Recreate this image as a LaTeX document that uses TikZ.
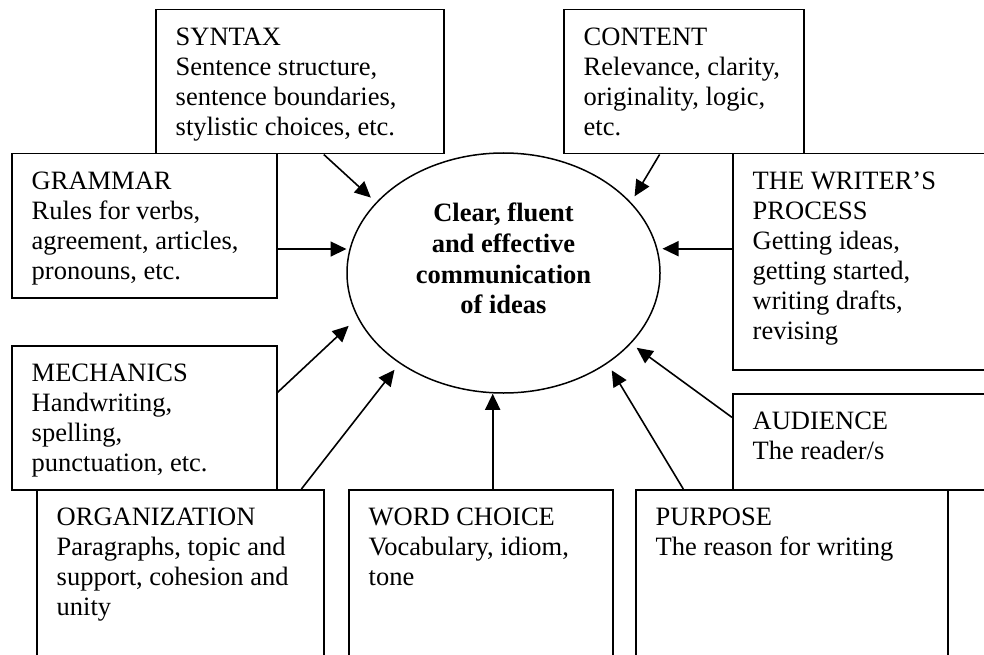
\documentclass[tikz,border=0pt]{standalone}
\usepackage{fontspec}
\setmainfont{Liberation Serif}
\usetikzlibrary{arrows.meta,calc,shapes.geometric}

\begin{document}
\begin{tikzpicture}[x=1pt,y=-1pt,
  box/.style={draw, line width=1.5pt, rectangle, anchor=north west, inner sep=0pt},
  txt/.style={anchor=north west, inner sep=0pt, align=left,
    font=\fontsize{26.5}{30}\selectfont},
  ctxt/.style={anchor=north, inner sep=0pt, align=center,
    font=\fontsize{26.5}{30.6}\selectfont\bfseries},
  arr/.style={line width=1.6pt, -{Triangle[length=16pt,width=15pt]}},
]
\useasboundingbox (0,0) rectangle (984,655);
\clip (0,0) rectangle (984,655);

% central idea
\node[draw, ellipse, line width=1.5pt, minimum width=313pt, minimum height=240pt,
  inner sep=0pt] (ell) at (503.5,273) {};
\node[ctxt] (elltxt) at ([yshift=70pt]ell.center)
  {Clear, fluent\\and effective\\communication\\of ideas};

% surrounding boxes
\node[box, minimum width=288pt, minimum height=144pt] (syntax)   at (155,9)   {};
\node[box, minimum width=240pt, minimum height=144pt] (content)  at (563,9)   {};
\node[box, minimum width=265pt, minimum height=144pt] (grammar)  at (11,153)  {};
\node[box, minimum width=300pt, minimum height=216pt] (writer)   at (732,153) {};
\node[box, minimum width=265pt, minimum height=144pt] (mech)     at (11,345)  {};
\node[box, minimum width=300pt, minimum height=96pt]  (audience) at (732,393) {};
\node[box, minimum width=287pt, minimum height=220pt] (org)      at (36,489)  {};
\node[box, minimum width=264pt, minimum height=220pt] (word)     at (348,489) {};
\node[box, minimum width=312pt, minimum height=220pt] (purpose)  at (635,489) {};

% box texts
\node[txt] (syntaxtxt) at ([shift={(20.5,18.6)}]syntax.north west)
  {SYNTAX\\Sentence structure,\\sentence boundaries,\\stylistic choices, etc.};
\node[txt] (contenttxt) at ([shift={(20.5,18.6)}]content.north west)
  {CONTENT\\Relevance, clarity,\\originality, logic,\\etc.};
\node[txt] (grammartxt) at ([shift={(20.5,18.6)}]grammar.north west)
  {GRAMMAR\\Rules for verbs,\\agreement, articles,\\pronouns, etc.};
\node[txt] (writertxt) at ([shift={(20.5,18.6)}]writer.north west)
  {THE WRITER’S\\PROCESS\\Getting ideas,\\getting started,\\writing drafts,\\revising};
\node[txt] (mechtxt) at ([shift={(20.5,18.6)}]mech.north west)
  {MECHANICS\\Handwriting,\\spelling,\\punctuation, etc.};
\node[txt] (audiencetxt) at ([shift={(20.5,18.6)}]audience.north west)
  {AUDIENCE\\The reader/s};
\node[txt] (orgtxt) at ([shift={(20.5,18.6)}]org.north west)
  {ORGANIZATION\\Paragraphs, topic and\\support, cohesion and\\unity};
\node[txt] (wordtxt) at ([shift={(20.5,18.6)}]word.north west)
  {WORD CHOICE\\Vocabulary, idiom,\\tone};
\node[txt] (purposetxt) at ([shift={(20.5,18.6)}]purpose.north west)
  {PURPOSE\\The reason for writing};

% arrow start points on the box borders
\coordinate (synS) at ($(syntax.south west)!0.583!(syntax.south east)$);
\coordinate (conS) at ($(content.south west)!0.4!(content.south east)$);
\coordinate (graS) at ($(grammar.north east)!0.66!(grammar.south east)$);
\coordinate (wriS) at ($(writer.north west)!0.44!(writer.south west)$);
\coordinate (mecS) at ($(mech.north east)!0.326!(mech.south east)$);
\coordinate (audS) at ($(audience.north west)!0.25!(audience.south west)$);
\coordinate (orgS) at ($(org.north west)!0.92!(org.north east)$);
\coordinate (worS) at ($(word.north west)!0.545!(word.north east)$);
\coordinate (purS) at ($(purpose.north west)!0.154!(purpose.north east)$);

% arrows into the central idea
\draw[arr, shorten >=7pt]  (synS) -- (ell.151);
\draw[arr, shorten >=7pt]  (conS) -- (ell.29);
\draw[arr, shorten >=3pt]  (graS) -- (ell.171 |- graS);
\draw[arr, shorten >=5pt]  (wriS) -- (ell.9 |- wriS);
\draw[arr, shorten >=12pt] (mecS) -- (ell.197);
\draw[arr, shorten >=8pt]  (orgS) -- (ell.221);
\draw[arr]                 (worS) -- (worS |- ell.south);
\draw[arr, shorten >=8pt]  (purS) -- (ell.319);
\draw[arr, shorten >=7pt]  (audS) -- (ell.331);
\end{tikzpicture}
\end{document}
